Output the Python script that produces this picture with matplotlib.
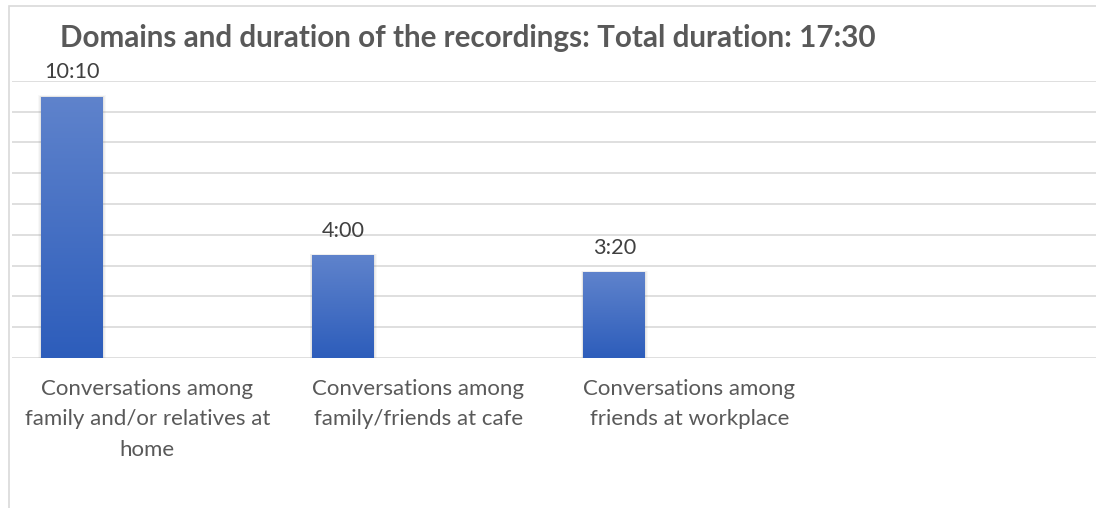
import numpy as np
import matplotlib
matplotlib.use("Agg")
import matplotlib.pyplot as plt
from matplotlib.colors import LinearSegmentedColormap
from matplotlib.patches import Rectangle

plt.rcParams['font.family'] = ['Lato', 'DejaVu Sans']

# recordings per domain, durations as h:mm
categories = ["Conversations among\nfamily and/or relatives at\nhome",
              "Conversations among\nfamily/friends at cafe",
              "Conversations among\nfriends at workplace",
              ""]
durations = ["10:10", "4:00", "3:20"]
total = "17:30"

def to_minutes(s):
    h, m = s.split(":")
    return int(h) * 60 + int(m)

minutes = [to_minutes(d) for d in durations]

W, H = 1096, 508
fig = plt.figure(figsize=(W / 100, H / 100), dpi=100)
fig.patch.set_facecolor("white")

# chart area border
fig.add_artist(Rectangle((9 / W, -0.1), 1.2, (H - 6) / H + 0.1, transform=fig.transFigure,
                         fill=False, edgecolor="#d9d9d9", linewidth=1.2))

ax = fig.add_axes([11.75 / W, 150 / H, (W - 11.75) / W, (358 - 80.7) / H])
ax.set_yticks(np.arange(0, 649, 72))
ax.yaxis.grid(True, color="#d9d9d9", linewidth=1.2)
ax.set_axisbelow(True)
for s in ax.spines.values():
    s.set_visible(False)
ax.tick_params(axis="y", length=0, labelleft=False)
ax.tick_params(axis="x", length=0, pad=15)
ax.set_xticks(np.arange(len(categories)))
ax.set_xticklabels(categories, fontsize=16, color="#595959", linespacing=1.66)

x = np.arange(len(minutes)) - 0.277
bars = ax.bar(x, minutes, width=0.228, color="none", zorder=3)

cmap = LinearSegmentedColormap.from_list("bluegrad", ["#2d5dbb", "#5f83cc"])
grad = np.linspace(0, 1, 256).reshape(-1, 1)
for b, lab in zip(bars, durations):
    x0, w, h = b.get_x(), b.get_width(), b.get_height()
    # soft shadow
    for k, a in [(3.0, 0.05), (2.0, 0.07), (1.0, 0.09)]:
        dx = 0.0035 * k
        ax.add_patch(Rectangle((x0 - dx, -2), w + 2 * dx, h + 2 + 1.3 * k,
                               facecolor="#7f7f7f", edgecolor="none", alpha=a, zorder=2))
    im = ax.imshow(grad, cmap=cmap, origin="lower", aspect="auto",
                   extent=(x0, x0 + w, 0, h), zorder=3)
    im.set_clip_path(b)
    ax.annotate(lab, (x0 + w / 2, h), xytext=(0, 10.5), textcoords="offset points",
                ha="center", va="bottom", fontsize=15.6, color="#404040")

ax.set_xlim(-0.5, len(categories) - 0.5)
ax.set_ylim(0, 648)

fig.text(60 / W, (H - 38) / H, "Domains and duration of the recordings: Total duration: " + total,
         fontsize=21.3, fontweight="bold", color="#595959", ha="left", va="center")

fig.savefig("out.png", dpi=100)
